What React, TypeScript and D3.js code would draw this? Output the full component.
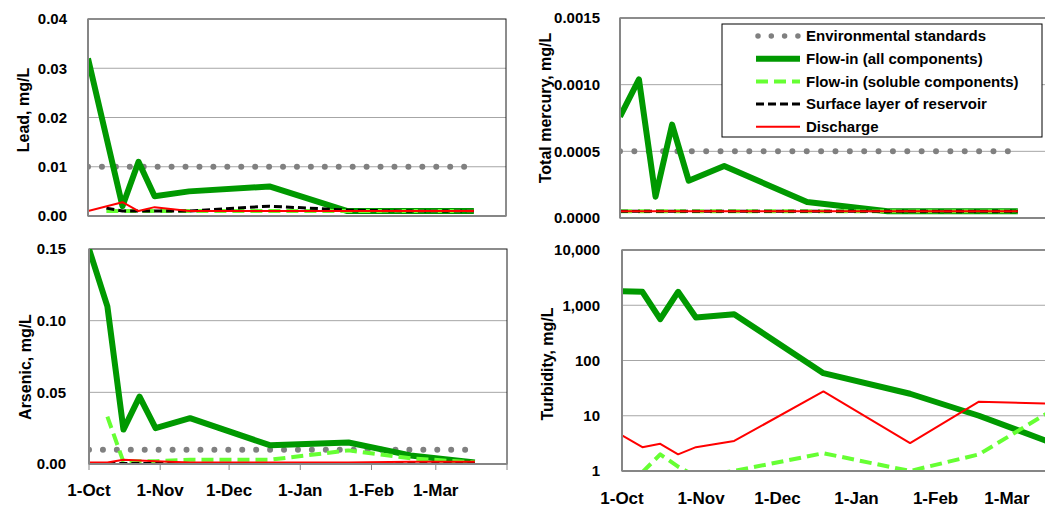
import React from "react";
import * as d3 from "d3";

// sampling dates of the monitoring campaign
const sampleDates = ["2012-10-01", "2012-10-09", "2012-10-16", "2012-10-23", "2012-10-30", "2012-11-14", "2012-12-19", "2013-01-22", "2013-02-18", "2013-03-18"];
const standardDates = ["2012-10-01", "2013-03-14"];
const monthTicks = ["2012-10-01", "2012-11-01", "2012-12-01", "2013-01-01", "2013-02-01", "2013-03-01", "2013-04-01"];
const xDomain = ["2012-10-01", "2013-04-01"];

const seriesNames = [
  "Environmental standards",
  "Flow-in (all components)",
  "Flow-in (soluble components)",
  "Surface layer of reservoir",
  "Discharge"
];

// Lead, mg/L
const leadStandard = [0.01, 0.01];
const leadAll = [0.032, null, 0.002, 0.011, 0.004, 0.005, 0.006, 0.001, 0.001, 0.001];
const leadSoluble = [null, 0.001, 0.001, 0.001, 0.001, 0.001, 0.001, 0.001, 0.001, 0.001];
const leadSurface = [null, 0.0016, 0.001, 0.001, 0.001, 0.001, 0.002, 0.0012, 0.001, 0.001];
const leadDischarge = [0.001, null, 0.0028, 0.001, 0.0018, 0.001, 0.001, 0.001, 0.001, 0.001];
const leadTicks = [0, 0.01, 0.02, 0.03, 0.04];

// Total mercury, mg/L
const hgStandard = [0.0005, 0.0005];
const hgAll = [0.00076, 0.00104, 0.00016, 0.0007, 0.00028, 0.00039, 0.00012, 0.00005, 0.00005, 0.00005];
const hgSoluble = [0.00005, 0.00005, 0.00005, 0.00005, 0.00005, 0.00005, 0.00005, 0.00005, 0.00005, 0.00005];
const hgSurface = [0.00005, 0.00005, 0.00005, 0.00005, 0.00005, 0.00005, 0.00005, 0.00005, 0.00005, 0.00005];
const hgDischarge = [0.00005, 0.00005, 0.00005, 0.00005, 0.00005, 0.00005, 0.00005, 0.00005, 0.00005, 0.00005];
const hgTicks = [0, 0.0005, 0.001, 0.0015];

// Arsenic, mg/L
const asStandard = [0.01, 0.01];
const asAll = [0.15, 0.11, 0.024, 0.047, 0.025, 0.032, 0.013, 0.015, 0.006, 0.001];
const asSoluble = [null, 0.033, 0.0015, 0.002, 0.002, 0.003, 0.003, 0.0095, 0.004, 0.001];
const asSurface = [null, 0.0003, 0.0003, 0.0003, 0.0003, 0.0003, 0.0003, 0.0003, 0.0003, 0.0003];
const asDischarge = [0.001, 0.001, 0.003, 0.0025, 0.002, 0.001, 0.001, 0.001, 0.0015, 0.0015];
const asTicks = [0, 0.05, 0.1, 0.15];

// Turbidity, mg/L (log scale)
const tbAll = [1800, 1750, 560, 1750, 600, 690, 59, 25, 10, 3.3];
const tbSoluble = [null, 0.95, 2.0, 1.2, 0.8, 1.0, 2.1, 1.0, 2.0, 12];
const tbDischarge = [4.4, 2.7, 3.1, 2.0, 2.7, 3.5, 27.5, 3.2, 18, 16.5];
const tbTicks = [1, 10, 100, 1000, 10000];

const parse = d3.timeParse("%Y-%m-%d");
const FONT = "'Liberation Sans', Arial, sans-serif";

const styles = {
  standard: { stroke: "#808080", width: 6 },
  all: { stroke: "#009900", width: 6 },
  soluble: { stroke: "#66ff33", width: 4, dash: "12 6" },
  surface: { stroke: "#000000", width: 3, dash: "8 4" },
  discharge: { stroke: "#ff0000", width: 2 }
};

function pairs(dates, values) {
  return dates
    .map((d, i) => [parse(d), values[i]])
    .filter(p => p[1] != null);
}

function Panel(props) {
  const { id, box, log, ticks, fmt, title, titleX, titleY, labelX, standard, all, soluble, surface, discharge, xLabels, xLabelY, tickMarks } = props;

  const x = d3.scaleTime()
    .domain(xDomain.map(parse))
    .range([box.left, box.right]);

  const y = log
    ? d3.scaleLog().domain([ticks[0], ticks[ticks.length - 1]]).range([box.bottom, box.top])
    : d3.scaleLinear().domain([ticks[0], ticks[ticks.length - 1]]).range([box.bottom, box.top]);

  const line = d3.line().x(d => x(d[0])).y(d => y(d[1]));

  let dots = null;
  if (standard) {
    const pts = pairs(standardDates, standard);
    const len = x(pts[1][0]) - x(pts[0][0]);
    dots = (
      <path
        d={line(pts)}
        fill="none"
        stroke={styles.standard.stroke}
        strokeWidth={styles.standard.width}
        strokeLinecap="round"
        strokeDasharray={`0 ${len / 27 - 0.02}`}
      />
    );
  }

  const grid = ticks.slice(1, -1).map((t, i) => (
    <line key={i} x1={box.left} x2={box.right} y1={y(t)} y2={y(t)} stroke="#a6a6a6" strokeWidth={1} />
  ));

  const yLabels = ticks.map((t, i) => (
    <text key={i} x={labelX} y={y(t)} dy="0.35em" textAnchor="end" fontSize={15} fontWeight="bold" fontFamily={FONT}>
      {fmt(t)}
    </text>
  ));

  const mk = (vals, st) => vals ? (
    <path
      d={line(pairs(sampleDates, vals))}
      fill="none"
      stroke={st.stroke}
      strokeWidth={st.width}
      strokeDasharray={st.dash}
      strokeLinejoin="round"
    />
  ) : null;

  const fmtDate = d3.timeFormat("%-d-%b");

  return (
    <g>
      <defs>
        <clipPath id={id}>
          <rect x={box.left} y={box.top} width={box.right - box.left} height={box.bottom - box.top} />
        </clipPath>
      </defs>
      {grid}
      <rect x={box.left} y={box.top} width={box.right - box.left} height={box.bottom - box.top} fill="none" stroke="#1a1a1a" strokeWidth={1} />
      <g clipPath={`url(#${id})`}>
        {dots}
        {mk(all, styles.all)}
        {mk(soluble, styles.soluble)}
        {mk(surface, styles.surface)}
        {mk(discharge, styles.discharge)}
      </g>
      <line x1={box.left} x2={box.left} y1={box.top} y2={box.bottom} stroke="#868686" strokeWidth={2} />
      <line x1={box.left} x2={box.right} y1={box.bottom} y2={box.bottom} stroke="#868686" strokeWidth={2} />
      {yLabels}
      <text
        transform={`translate(${titleX},${titleY}) rotate(-90)`}
        textAnchor="middle"
        dy="0.35em"
        fontSize={16}
        fontWeight="bold"
        fontFamily={FONT}
      >{title}</text>
      {tickMarks && monthTicks.map((m, i) => (
        <line key={i} x1={x(parse(m))} x2={x(parse(m))} y1={box.bottom} y2={box.bottom + 6} stroke="#868686" strokeWidth={1} />
      ))}
      {xLabels && monthTicks.slice(0, -1).map((m, i) => (
        <text key={i} x={x(parse(m))} y={xLabelY} dy="0.35em" textAnchor="middle" fontSize={17} fontWeight="bold" fontFamily={FONT}>
          {fmtDate(parse(m))}
        </text>
      ))}
    </g>
  );
}

function Legend() {
  const left = 722, top = 24, width = 320, height = 113;
  const rowY = i => 36 + i * 22.7;
  const keys = ["standard", "all", "soluble", "surface", "discharge"];
  return (
    <g>
      <rect x={left} y={top} width={width} height={height} fill="#fff" stroke="#000" strokeWidth={1} />
      {keys.map((k, i) => {
        const st = styles[k];
        return (
          <g key={k}>
            <line
              x1={k === "standard" ? 758 : 756}
              x2={k === "standard" ? 798 : 800}
              y1={rowY(i)}
              y2={rowY(i)}
              stroke={st.stroke}
              strokeWidth={k === "standard" ? 5.5 : st.width}
              strokeDasharray={k === "standard" ? "0 13.3" : st.dash}
              strokeLinecap={k === "standard" ? "round" : "butt"}
            />
            <text x={806} y={rowY(i)} dy="0.35em" fontSize={15} fontWeight="bold" fontFamily={FONT}>
              {seriesNames[i]}
            </text>
          </g>
        );
      })}
    </g>
  );
}

export default function App() {
  const f2 = d3.format(".2f");
  const f4 = d3.format(".4f");
  const fc = d3.format(",");
  return (
    <svg width={1045} height={507} style={{ position: "absolute", left: 0, top: 0, background: "#fff" }}>
      <Panel
        id="clip-lead"
        box={{ left: 88, right: 506, top: 19, bottom: 216 }}
        ticks={leadTicks} fmt={f2} title="Lead, mg/L" titleX={23} titleY={110} labelX={67}
        standard={leadStandard} all={leadAll} soluble={leadSoluble} surface={leadSurface} discharge={leadDischarge}
      />
      <Panel
        id="clip-hg"
        box={{ left: 620, right: 1051, top: 18, bottom: 218 }}
        ticks={hgTicks} fmt={f4} title="Total mercury, mg/L" titleX={545} titleY={108} labelX={600}
        standard={hgStandard} all={hgAll} soluble={hgSoluble} surface={hgSurface} discharge={hgDischarge}
      />
      <Panel
        id="clip-as"
        box={{ left: 89, right: 507, top: 249, bottom: 464 }}
        ticks={asTicks} fmt={f2} title="Arsenic, mg/L" titleX={25} titleY={367} labelX={66}
        standard={asStandard} all={asAll} soluble={asSoluble} surface={asSurface} discharge={asDischarge}
        xLabels xLabelY={490} tickMarks
      />
      <Panel
        id="clip-tb"
        log
        box={{ left: 622, right: 1086, top: 250, bottom: 471 }}
        ticks={tbTicks} fmt={fc} title="Turbidity, mg/L" titleX={547} titleY={364} labelX={600}
        all={tbAll} soluble={tbSoluble} discharge={tbDischarge}
        xLabels xLabelY={498}
      />
      <Legend />
    </svg>
  );
}
